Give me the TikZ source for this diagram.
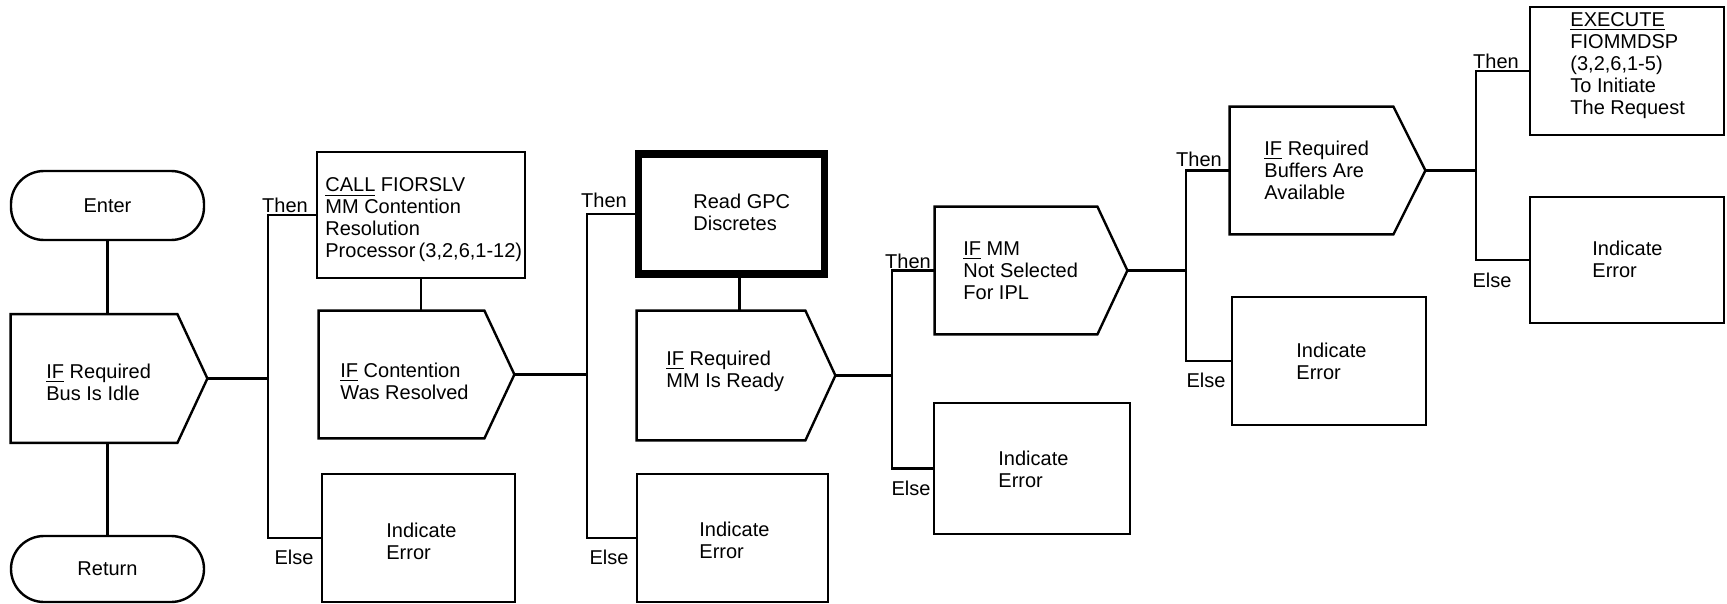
\documentclass[tikz,border=0pt]{standalone}
\usepackage{fontspec}
\setmainfont{Liberation Sans}
\tikzset{
  ln/.style={line width=1.2pt},
  box/.style={draw, line width=1.2pt, rectangle, inner sep=0pt},
  thickbox/.style={draw, line width=3.6pt, rectangle, inner sep=0pt},
  decb/.style={rectangle, inner sep=0pt, draw=none},
  term/.style={draw, line width=1.2pt, rectangle, rounded corners=16.5pt, inner sep=0pt, font=\fontsize{10}{11}\selectfont},
  txt/.style={inner sep=0pt, align=left, anchor=west, font=\fontsize{10}{11}\selectfont},
  lab/.style={inner sep=0pt, font=\fontsize{10}{11}\selectfont}
}
\newcommand{\decpath}[2]{\draw[ln] (#1.north west) -- ([xshift=-#2]#1.north east) -- (#1.east) -- ([xshift=-#2]#1.south east) -- (#1.south west) -- cycle;}
\begin{document}
\begin{tikzpicture}[x=0.5pt,y=-0.5pt]
\fill[white] (0,0) rectangle (1727,604);
\useasboundingbox (0,0) rectangle (1727,604);
% terminals
\node[term, minimum width=96.5pt, minimum height=34.5pt] (enter) at (107.5,205.5) {Enter};
\node[term, minimum width=96.5pt, minimum height=33pt] (ret) at (107.5,569) {Return};
% decisions
\node[decb, minimum width=98pt, minimum height=64pt] (d1) at (109,378.5) {};
\node[decb, minimum width=97.5pt, minimum height=63.5pt] (d2) at (416.5,374.5) {};
\node[decb, minimum width=99pt, minimum height=64.5pt] (d3) at (736,375.5) {};
\node[decb, minimum width=96pt, minimum height=63.5pt] (d4) at (1031,270.5) {};
\node[decb, minimum width=97.5pt, minimum height=63.5pt] (d5) at (1327.5,170.5) {};
\decpath{d1}{15pt}
\decpath{d2}{15pt}
\decpath{d3}{15pt}
\decpath{d4}{15pt}
\decpath{d5}{16pt}
% process boxes
\node[box, minimum width=104pt, minimum height=63pt] (call) at (421,215) {};
\node[thickbox, minimum width=93pt, minimum height=60pt] (read) at (731.5,214) {};
\node[box, minimum width=97pt, minimum height=64pt] (exec) at (1627,71) {};
\node[box, minimum width=96.5pt, minimum height=64pt] (err1) at (418.5,538) {};
\node[box, minimum width=95.5pt, minimum height=64pt] (err2) at (732.5,538) {};
\node[box, minimum width=98pt, minimum height=65.5pt] (err3) at (1032,468.5) {};
\node[box, minimum width=97pt, minimum height=64pt] (err4) at (1329,361) {};
\node[box, minimum width=97pt, minimum height=63pt] (err5) at (1627,260) {};
% junctions
\coordinate (j1) at (268,378.5);
\coordinate (j2) at (587,374.5);
\coordinate (j3) at (892,375.5);
\coordinate (j4) at (1186,270.5);
\coordinate (j5) at (1476,170.5);
% connectors
\draw[ln] (enter.south) -- (enter.south |- d1.north);
\draw[ln] (ret.north |- d1.south) -- (ret.north);
\draw[ln] (d1.east) -- (j1);
\draw[ln] (call.west) -| (j1) |- (err1.west);
\draw[ln] (call.south) -- (call.south |- d2.north);
\draw[ln] (d2.east) -- (j2);
\draw[ln] (read.west) -| (j2) |- (err2.west);
\draw[ln] ([xshift=4pt]read.south) -- ([xshift=4pt]read.south |- d3.north);
\draw[ln] (d3.east) -- (j3);
\draw[ln] (d4.west) -| (j3) |- (err3.west);
\draw[ln] (d4.east) -- (j4);
\draw[ln] (d5.west) -| (j4) |- (err4.west);
\draw[ln] (d5.east) -- (j5);
\draw[ln] (exec.west) -| (j5) |- (err5.west);
% texts
\node[txt] (t1) at (46,382) {\underline{IF} Required\\Bus Is Idle};
\node[txt] (t2) at (340,381.5) {\underline{IF} Contention\\Was Resolved};
\node[txt] (t3) at (666,371.5) {\underline{IF} Required\\MM Is Ready};
\node[txt] (t4) at (963,271) {\underline{IF} MM\\Not Selected\\For IPL};
\node[txt] (t5) at (1264,170) {\underline{IF} Required\\Buffers Are\\Available};
\node[txt] (tc) at (325,220) {\underline{CALL} FIORSLV\\MM Contention\\Resolution\\Processor\,(3,2,6,1-12)};
\node[txt] (tr) at (693,212) {Read GPC\\Discretes};
\node[txt] (tx) at (1570,66) {\underline{EXECUTE}\\FIOMMDSP\\(3,2,6,1-5)\\To Initiate\\The Request};
\node[txt] (e1) at (386,541.5) {Indicate\\Error};
\node[txt] (e2) at (699,540) {Indicate\\Error};
\node[txt] (e3) at (998,469) {Indicate\\Error};
\node[txt] (e4) at (1296,361.5) {Indicate\\Error};
\node[txt] (e5) at (1592,259) {Indicate\\Error};
% branch labels
\node[lab] (th1) at (285,205) {Then};
\node[lab] (el1) at (294,557) {Else};
\node[lab] (th2) at (604,200) {Then};
\node[lab] (el2) at (609,557) {Else};
\node[lab] (th3) at (908,261) {Then};
\node[lab] (el3) at (911,488) {Else};
\node[lab] (th4) at (1199,159) {Then};
\node[lab] (el4) at (1206,380) {Else};
\node[lab] (th5) at (1496,61) {Then};
\node[lab] (el5) at (1492,280) {Else};
\end{tikzpicture}
\end{document}
